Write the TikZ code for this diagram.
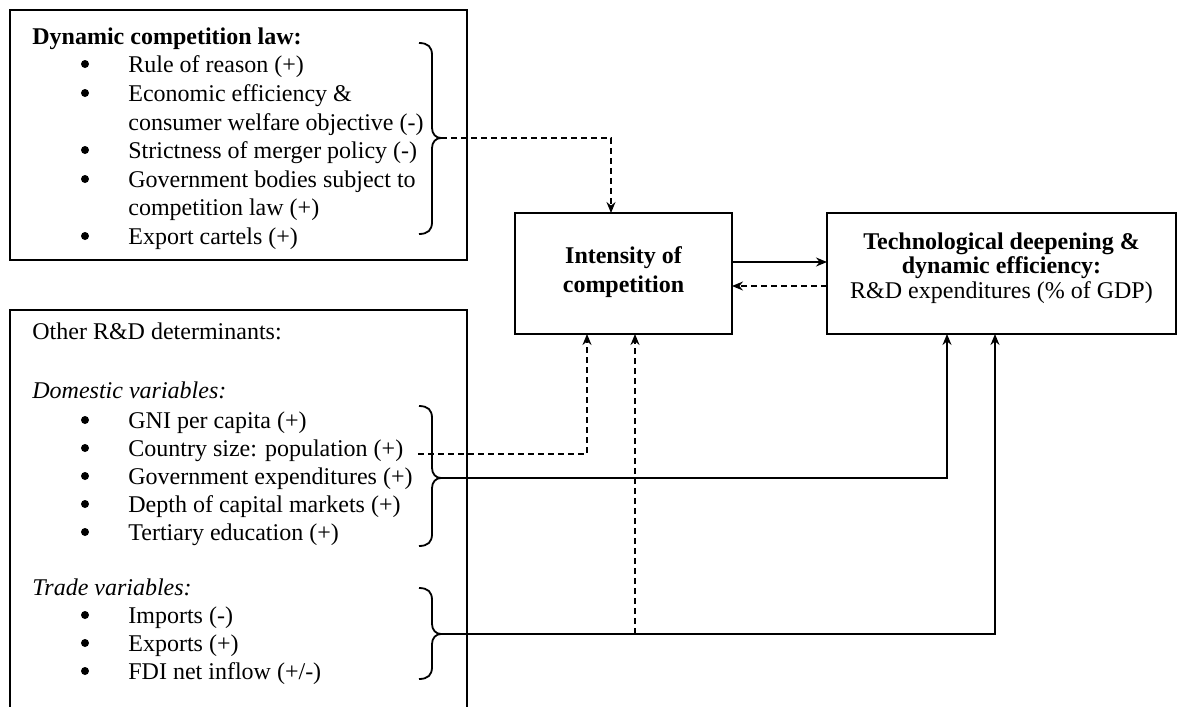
\documentclass[tikz,border=0pt]{standalone}
\usepackage{fontspec}
\setmainfont{Liberation Serif}
\usetikzlibrary{arrows.meta}
\newcommand\mybrace[4]{%
  \draw[brc] (419,#2) .. controls (428,#2) and (432,{#2+4}) .. (432,{#2+12})
    -- (432,{#3-10}) .. controls (432,{#3-4}) and (436,#3) .. (441,#3)
    .. controls (436,#3) and (432,{#3+4}) .. (432,{#3+10})
    -- (432,{#4-12}) .. controls (432,{#4-4}) and (428,#4) .. (419,#4);
  \coordinate (#1) at (441,#3);}
\begin{document}
\begin{tikzpicture}[x=0.5pt,y=-0.5pt,
  txt/.style={anchor=base west,inner sep=0pt,font=\fontsize{12}{14}\selectfont},
  bul/.style={circle,fill=black,inner sep=0pt,minimum size=4pt,yshift=4pt},
  ctr/.style={anchor=base,inner sep=0pt,font=\fontsize{12}{14}\selectfont\bfseries},
  ctrn/.style={anchor=base,inner sep=0pt,font=\fontsize{12}{14}\selectfont},
  boxnode/.style={draw,line width=1pt,inner sep=0pt,outer sep=0pt},
  conn/.style={line width=0.75pt,-{Stealth[length=5.5pt,width=4.5pt]}},
  dsh/.style={dash pattern=on 3pt off 2pt},
  brc/.style={line width=0.9pt}]
\useasboundingbox (0,0) rectangle (1185,707);
\clip (0,0) rectangle (1185,707);

% top-left box
\node[boxnode, minimum width=228.5pt, minimum height=125pt, anchor=north west] (law) at (10,10) {};
\node[txt,font=\fontsize{12}{14}\selectfont\bfseries] (lawt) at (32,44) {Dynamic competition law:};
\node[bul] (lb1) at (85,72) {};  \node[txt] (l1) at (128,72) {Rule of reason (+)};
\node[bul] (lb2) at (85,101) {}; \node[txt] (l2) at (128,101) {Economic efficiency \&};
\node[txt] (l2b) at (128,130) {consumer welfare objective (-)};
\node[bul] (lb3) at (85,158) {}; \node[txt] (l3) at (128,158) {Strictness of merger policy (-)};
\node[bul] (lb4) at (85,187) {}; \node[txt] (l4) at (128,187) {Government bodies subject to};
\node[txt] (l4b) at (128,215) {competition law (+)};
\node[bul] (lb5) at (85,244) {}; \node[txt] (l5) at (128,244) {Export cartels (+)};
\mybrace{b1}{43}{138}{234}

% bottom-left box (runs off the bottom)
\node[boxnode, minimum width=228.5pt, minimum height=210pt, anchor=north west] (oth) at (10,310) {};
\node[txt] (otht) at (32,339) {Other R\&D determinants:};
\node[txt,font=\fontsize{12}{14}\selectfont\itshape] (dom) at (32,398) {Domestic variables:};
\node[bul] (db1) at (85,428) {}; \node[txt] (d1) at (128,428) {GNI per capita (+)};
\node[bul] (db2) at (85,456) {}; \node[txt] (d2) at (128,456) {Country size: population (+)};
\node[bul] (db3) at (85,484) {}; \node[txt] (d3) at (128,484) {Government expenditures (+)};
\node[bul] (db4) at (85,512) {}; \node[txt] (d4) at (128,512) {Depth of capital markets (+)};
\node[bul] (db5) at (85,540) {}; \node[txt] (d5) at (128,540) {Tertiary education (+)};
\node[txt,font=\fontsize{12}{14}\selectfont\itshape] (trd) at (32,595) {Trade variables:};
\node[bul] (tb1) at (85,623) {}; \node[txt] (t1) at (128,623) {Imports (-)};
\node[bul] (tb2) at (85,651) {}; \node[txt] (t2) at (128,651) {Exports (+)};
\node[bul] (tb3) at (85,679) {}; \node[txt] (t3) at (128,679) {FDI net inflow (+/-)};
\mybrace{b2}{406}{478}{546}
\mybrace{b3}{588}{634}{679}

% intensity box
\node[boxnode, minimum width=108.5pt, minimum height=60.5pt] (int) at (623.5,273.5) {};
\node[ctr] (int1) at (623.5,263) {Intensity of};
\node[ctr] (int2) at (623.5,292) {competition};

% technology box
\node[boxnode, minimum width=174.5pt, minimum height=60.5pt] (tech) at (1001.5,273.5) {};
\node[ctr] (te1) at (1001.5,249) {Technological deepening \&};
\node[ctr] (te2) at (1001.5,273) {dynamic efficiency:};
\node[ctrn] (te3) at (1001.5,298) {R\&D expenditures (\% of GDP)};

% connectors
\draw[conn,dsh] (b1) -| ([xshift=-6.25pt]int.north);
\draw[conn] ([yshift=5.75pt]int.east) -- ([yshift=5.75pt]tech.west);
\draw[conn,dsh] ([yshift=-6.25pt]tech.west) -- ([yshift=-6.25pt]int.east);
\coordinate (cs) at (418,454);
\draw[conn,dsh] (cs) -| ([xshift=-18.25pt]int.south);
\draw[conn] (b2) -| ([xshift=-27.25pt]tech.south);
\draw[conn] (b3) -| ([xshift=-3.25pt]tech.south);
\coordinate (tj) at (635,634);
\draw[conn,dsh] (tj) -- (tj |- int.south);
\end{tikzpicture}
\end{document}
